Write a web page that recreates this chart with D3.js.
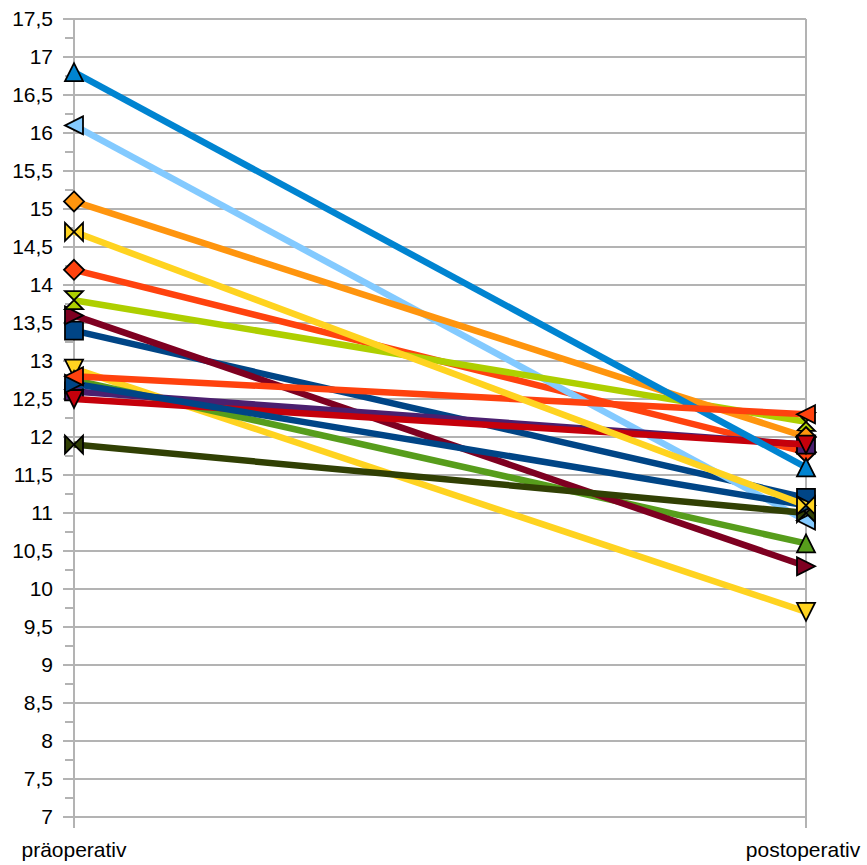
<!DOCTYPE html>
<html>
<head>
<meta charset="utf-8">
<script src="https://cdn.jsdelivr.net/npm/d3@7"></script>
<style>
  html, body { margin: 0; padding: 0; background: #fff; }
  svg { display: block; font-family: "Liberation Sans", Arial, sans-serif; }
</style>
</head>
<body>
<div id="chart"></div>
<script>
// categories on the x axis
const categories = ["präoperativ", "postoperativ"];

// one entry per patient line, in drawing order
const seriesColors = ["#004586", "#ff420e", "#ffd320", "#579d1c", "#7e0021", "#83caff", "#314004",
                      "#aecf00", "#4b1f6f", "#ff950e", "#c5000b", "#0084d1", "#004586", "#ff420e", "#ffd320"];
const seriesSymbols = ["square", "diamond", "down", "up", "right", "left", "bowtie",
                       "sandglass", "square", "diamond", "down", "up", "right", "left", "bowtie"];
const preValues  = [13.4, 14.2, 12.9, 12.75, 13.6, 16.1, 11.9, 13.8, 12.6, 15.1, 12.5, 16.8, 12.7, 12.8, 14.7];
const postValues = [11.2, 11.8, 9.7, 10.6, 10.3, 10.9, 11.0, 12.2, 11.9, 12.0, 11.9, 11.6, 11.1, 12.3, 11.1];

const yTicks = d3.range(7, 17.51, 0.5);
const yMinorTicks = d3.range(7.25, 17.5, 0.5);

const width = 867, height = 865;
const margin = { left: 74, right: 61, top: 19, bottom: 48 };

const svg = d3.select("#chart").append("svg")
    .attr("width", width).attr("height", height);

const x = d3.scalePoint().domain(categories).range([margin.left, width - margin.right]);
const y = d3.scaleLinear().domain([7, 17.5]).range([height - margin.bottom, margin.top]);

const gridColor = "#b3b3b3";
const x0 = x(categories[0]), x1 = x(categories[1]);

// horizontal grid
svg.append("g").selectAll("line").data(yTicks).join("line")
    .attr("x1", x0 - 11).attr("x2", x1)
    .attr("y1", d => y(d)).attr("y2", d => y(d))
    .attr("stroke", gridColor).attr("stroke-width", 2);

// minor ticks
svg.append("g").selectAll("line").data(yMinorTicks).join("line")
    .attr("x1", x0 - 9).attr("x2", x0)
    .attr("y1", d => y(d)).attr("y2", d => y(d))
    .attr("stroke", gridColor).attr("stroke-width", 2);

// vertical lines at both categories
svg.append("g").selectAll("line").data(categories).join("line")
    .attr("x1", d => x(d)).attr("x2", d => x(d))
    .attr("y1", y(17.5)).attr("y2", y(7) + 11)
    .attr("stroke", gridColor).attr("stroke-width", 2);

// y labels
svg.append("g").selectAll("text").data(yTicks).join("text")
    .attr("x", x0 - 21).attr("y", d => y(d))
    .attr("dy", "0.35em").attr("text-anchor", "end")
    .attr("font-size", 21).attr("fill", "#000")
    .text(d => d3.format(".1~f")(d).replace(".", ","));

// x labels
svg.append("g").selectAll("text").data(categories).join("text")
    .attr("x", (d, i) => x(d) - (i === 1 ? 3 : 0)).attr("y", height - 8)
    .attr("text-anchor", "middle")
    .attr("font-size", 21).attr("fill", "#000")
    .text(d => d);

const series = preValues.map((v, i) => ({
    color: seriesColors[i], symbol: seriesSymbols[i],
    values: [v, postValues[i]]
}));

const line = d3.line().x((d, i) => x(categories[i])).y(d => y(d));

const s = 9;
const shapes = {
    square: `M${-s},${-s}L${s},${-s}L${s},${s}L${-s},${s}Z`,
    diamond: `M0,${-s - 1}L${s + 1},0L0,${s + 1}L${-s - 1},0Z`,
    down: `M${-s},${-s}L${s},${-s}L0,${s}Z`,
    up: `M${-s},${s}L${s},${s}L0,${-s}Z`,
    right: `M${-s},${-s}L${s},0L${-s},${s}Z`,
    left: `M${s},${-s}L${-s},0L${s},${s}Z`,
    bowtie: `M${-s},${-s}L${s},${s}L${s},${-s}L${-s},${s}Z`,
    sandglass: `M${-s},${-s}L${s},${-s}L${-s},${s}L${s},${s}Z`
};

const sg = svg.append("g").selectAll("g").data(series).join("g");

sg.append("path")
    .attr("d", d => line(d.values))
    .attr("fill", "none").attr("stroke", d => d.color)
    .attr("stroke-width", 6.5);

sg.selectAll("path.mark").data(d => d.values.map(v => ({ v, d }))).join("path")
    .attr("class", "mark")
    .attr("transform", (p, i) => `translate(${x(categories[i])},${y(p.v)})`)
    .attr("d", p => shapes[p.d.symbol])
    .attr("fill", p => p.d.color)
    .attr("stroke", "#000").attr("stroke-width", 1.8)
    .attr("stroke-linejoin", "miter");
</script>
</body>
</html>
